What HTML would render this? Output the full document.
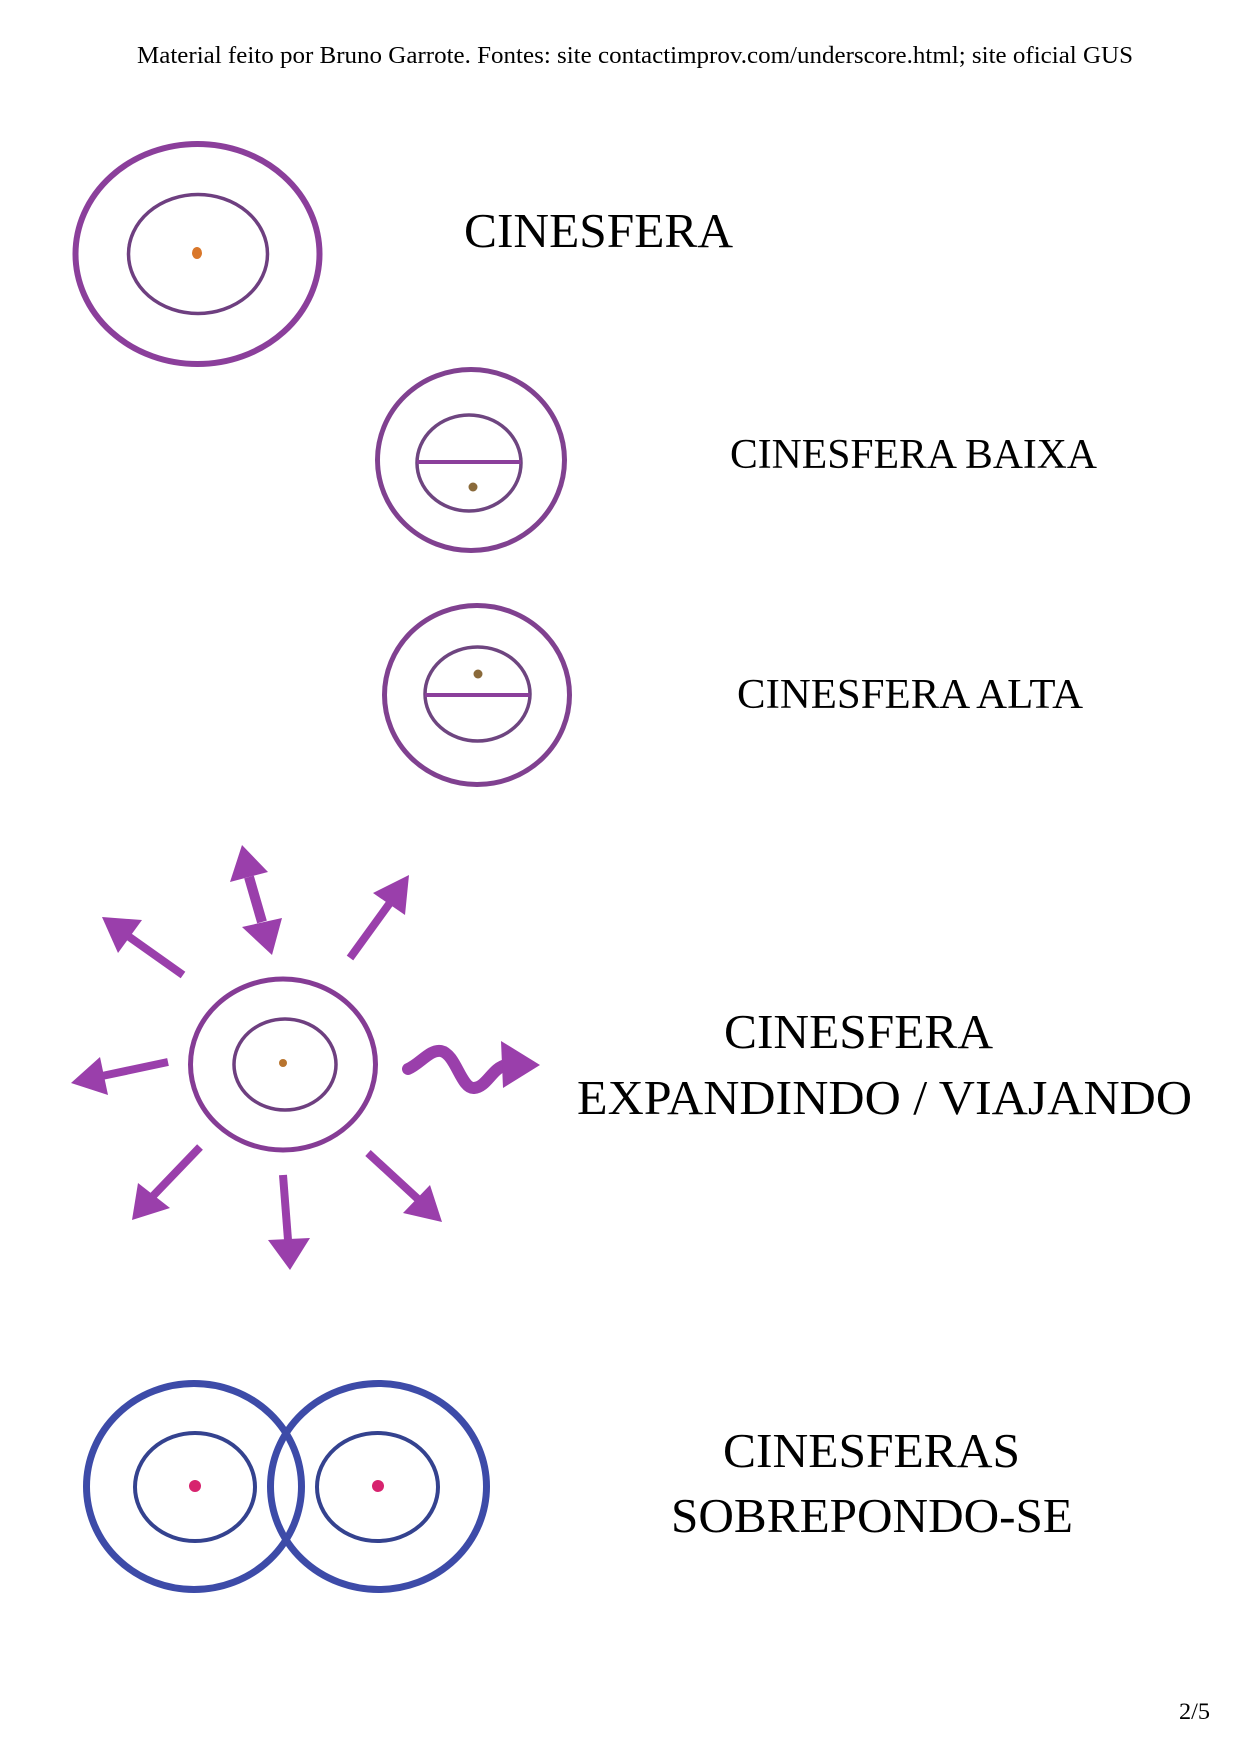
<!DOCTYPE html>
<html>
<head>
<meta charset="utf-8">
<style>
  html, body { margin:0; padding:0; background:#ffffff; }
  body { width:1241px; height:1755px; overflow:hidden; }
  svg { display:block; }
  text { font-family: "Liberation Serif", "Times New Roman", serif; fill:#000; }
</style>
</head>
<body>
<svg width="1241" height="1755" viewBox="0 0 1241 1755" xmlns="http://www.w3.org/2000/svg">
  <rect x="0" y="0" width="1241" height="1755" fill="#ffffff"/>

  <!-- Header -->
  <text x="137" y="63" font-size="24" textLength="996" lengthAdjust="spacingAndGlyphs">Material feito por Bruno Garrote. Fontes: site contactimprov.com/underscore.html; site oficial GUS</text>

  <!-- Cinesfera (top) -->
  <ellipse cx="197.5" cy="254" rx="122" ry="110" fill="none" stroke="#8b3f9b" stroke-width="6"/>
  <ellipse cx="198" cy="254" rx="69.5" ry="59.5" fill="none" stroke="#6e3f80" stroke-width="3.5"/>
  <ellipse cx="197" cy="253" rx="5" ry="6" fill="#d9772a"/>
  <text x="464" y="247" font-size="49" textLength="269" lengthAdjust="spacingAndGlyphs">CINESFERA</text>

  <!-- Cinesfera baixa -->
  <ellipse cx="471" cy="460" rx="93.5" ry="90.5" fill="none" stroke="#804190" stroke-width="5"/>
  <ellipse cx="469" cy="463" rx="52" ry="48" fill="none" stroke="#6e4580" stroke-width="3.5"/>
  <line x1="417" y1="462" x2="521" y2="462" stroke="#8b3f9b" stroke-width="4"/>
  <circle cx="473" cy="487" r="4.5" fill="#8a6a3a"/>
  <text x="730" y="468" font-size="42" textLength="367" lengthAdjust="spacingAndGlyphs">CINESFERA BAIXA</text>

  <!-- Cinesfera alta -->
  <ellipse cx="477" cy="695" rx="92.5" ry="89.5" fill="none" stroke="#804190" stroke-width="5"/>
  <ellipse cx="477.5" cy="694" rx="52.5" ry="47" fill="none" stroke="#6e4580" stroke-width="3.5"/>
  <line x1="425" y1="695" x2="530" y2="695" stroke="#8b3f9b" stroke-width="4"/>
  <circle cx="478" cy="674" r="4.5" fill="#8a6a3a"/>
  <text x="737" y="708" font-size="42" textLength="346" lengthAdjust="spacingAndGlyphs">CINESFERA ALTA</text>

  <!-- Cinesfera expandindo / viajando -->
  <ellipse cx="283" cy="1064.5" rx="92.5" ry="85.5" fill="none" stroke="#853c95" stroke-width="5"/>
  <ellipse cx="285" cy="1064.5" rx="51" ry="45.5" fill="none" stroke="#6e3f80" stroke-width="3.5"/>
  <circle cx="283" cy="1063" r="4" fill="#b8742e"/>

  <g fill="#9a3fab" stroke="#9a3fab" stroke-linecap="butt">
    <!-- double arrow (top) -->
    <line x1="249" y1="877" x2="262" y2="922" stroke-width="10"/>
    <polygon points="242,845 230,882 268,872" stroke="none"/>
    <polygon points="272,955 242,927 282,918" stroke="none"/>
    <!-- upper-left -->
    <line x1="183" y1="975" x2="128" y2="936" stroke-width="8"/>
    <polygon points="102,917 142,920 118,953" stroke="none"/>
    <!-- left -->
    <line x1="168" y1="1062" x2="102" y2="1076" stroke-width="8"/>
    <polygon points="71,1083 100,1057 108,1095" stroke="none"/>
    <!-- lower-left -->
    <line x1="200" y1="1147" x2="152" y2="1197" stroke-width="8"/>
    <polygon points="132,1220 138,1183 170,1208" stroke="none"/>
    <!-- down -->
    <line x1="283" y1="1175" x2="288" y2="1240" stroke-width="8"/>
    <polygon points="290,1270 268,1240 310,1238" stroke="none"/>
    <!-- lower-right -->
    <line x1="368" y1="1153" x2="419" y2="1200" stroke-width="8"/>
    <polygon points="442,1222 430,1185 403,1213" stroke="none"/>
    <!-- upper-right -->
    <line x1="350" y1="958" x2="392" y2="900" stroke-width="8"/>
    <polygon points="409,875 373,893 405,915" stroke="none"/>
    <!-- wavy -->
    <path d="M408,1069 C420,1064 430,1049 441,1051 C456,1054 461,1089 474,1088 C487,1087 492,1068 506,1065" fill="none" stroke-width="12" stroke-linecap="round"/>
    <polygon points="540,1065 501,1041 503,1088" stroke="none"/>
  </g>

  <text x="724" y="1048" font-size="49" textLength="269" lengthAdjust="spacingAndGlyphs">CINESFERA</text>
  <text x="577" y="1114" font-size="49" textLength="615" lengthAdjust="spacingAndGlyphs">EXPANDINDO / VIAJANDO</text>

  <!-- Cinesferas sobrepondo-se -->
  <ellipse cx="194" cy="1486.5" rx="107.5" ry="103" fill="none" stroke="#3d4ba8" stroke-width="7"/>
  <ellipse cx="378.5" cy="1486.5" rx="108" ry="103" fill="none" stroke="#3d4ba8" stroke-width="7"/>
  <ellipse cx="195" cy="1487" rx="60" ry="54" fill="none" stroke="#34428f" stroke-width="4"/>
  <ellipse cx="377.5" cy="1487" rx="60.5" ry="54" fill="none" stroke="#34428f" stroke-width="4"/>
  <circle cx="195" cy="1486" r="6" fill="#d7236e"/>
  <circle cx="378" cy="1486" r="6" fill="#d7236e"/>

  <text x="723" y="1467" font-size="49" textLength="297" lengthAdjust="spacingAndGlyphs">CINESFERAS</text>
  <text x="671" y="1532" font-size="49" textLength="402" lengthAdjust="spacingAndGlyphs">SOBREPONDO-SE</text>

  <!-- Page number -->
  <text x="1179" y="1719" font-size="23" textLength="31" lengthAdjust="spacingAndGlyphs">2/5</text>
</svg>
</body>
</html>
